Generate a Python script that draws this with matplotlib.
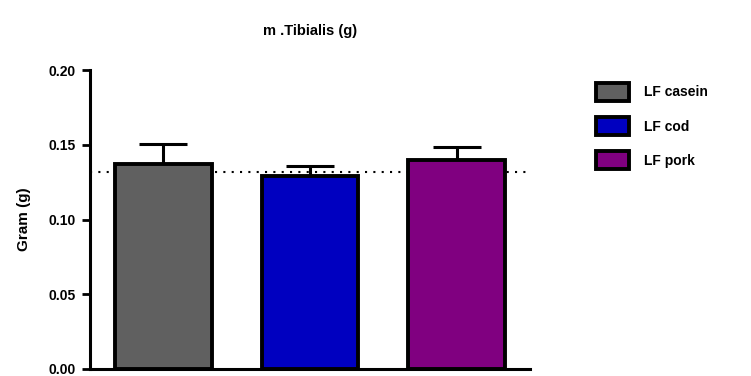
import matplotlib
matplotlib.use("Agg")
import matplotlib.pyplot as plt

plt.rcParams['font.family'] = ['Liberation Sans', 'DejaVu Sans']
plt.rcParams['font.weight'] = 'bold'

# Group means and upper SEM for m. Tibialis weight
groups = ["LF casein", "LF cod", "LF pork"]
means = [0.1373, 0.1293, 0.1400]
sem = [0.0134, 0.0065, 0.0084]
colors = ["#606060", "#0000C0", "#800080"]
reference_level = 0.1315

yticks = [0.00, 0.05, 0.10, 0.15, 0.20]
ytick_labels = ["0.00", "0.05", "0.10", "0.15", "0.20"]

fig = plt.figure(figsize=(7.51, 3.76), dpi=100)
ax = fig.add_axes([90 / 751, 1 - 369 / 376, 440 / 751, 299 / 376])

x = list(range(len(groups)))

ax.axhline(reference_level, color="black", linestyle=(0, (1, 3)), linewidth=1.5, zorder=1)

bars = ax.bar(x, means, width=0.66, color=colors, edgecolor="black",
              linewidth=2.8, zorder=3, label=groups)
for i, (m, e) in enumerate(zip(means, sem)):
    ax.errorbar(i, m, yerr=[[0], [e]], fmt="none", ecolor="black",
                elinewidth=2.2, capsize=17.5, capthick=2.2, zorder=2)

ax.set_xlim(-0.5, 2.5)
ax.set_ylim(0, 0.20)
ax.set_xticks([])
ax.set_yticks(yticks)
ax.set_yticklabels(ytick_labels)
ax.tick_params(axis="y", direction="out", length=6, width=2, pad=4, labelsize=10)
for lbl in ax.get_yticklabels():
    lbl.set_fontweight("bold")

for side in ("top", "right"):
    ax.spines[side].set_visible(False)
for side in ("left", "bottom"):
    ax.spines[side].set_linewidth(2.2)

ax.set_ylabel("Gram (g)", fontsize=11, fontweight="bold", labelpad=13)
ax.set_title("m .Tibialis (g)", fontsize=10.5, fontweight="bold", pad=25)

leg = ax.legend(bars, groups, loc="upper left", bbox_to_anchor=(590 / 751, 1 - 77 / 376),
                bbox_transform=fig.transFigure, frameon=False, fontsize=10,
                handlelength=2.4, handleheight=1.65, labelspacing=1.15,
                handletextpad=1.1, borderaxespad=0)
for t in leg.get_texts():
    t.set_fontweight("bold")

fig.savefig("out.png", dpi=100)
